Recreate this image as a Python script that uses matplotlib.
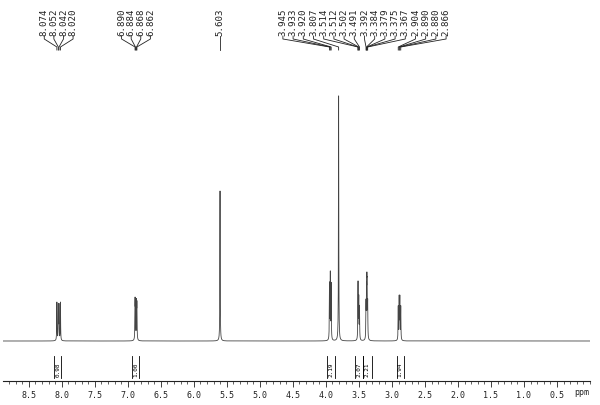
import numpy as np
import matplotlib
matplotlib.use("Agg")
import matplotlib.pyplot as plt
from matplotlib.ticker import MultipleLocator, FixedLocator

# ---- data ----
# peak-pick groups (ppm) and the height (px above baseline) of each multiplet
group_ppm = [
    [8.074, 8.052, 8.042, 8.020],
    [6.890, 6.884, 6.868, 6.862],
    [5.603],
    [3.945, 3.933, 3.920, 3.807, 3.514, 3.512, 3.502, 3.491,
     3.392, 3.384, 3.379, 3.375, 3.367, 2.904, 2.890, 2.880, 2.866],
]
multiplets = [
    [8.074, 8.052, 8.042, 8.020],
    [6.890, 6.884, 6.868, 6.862],
    [5.603],
    [3.945, 3.933, 3.920],
    [3.807],
    [3.514, 3.512, 3.502, 3.491],
    [3.392, 3.384, 3.379, 3.375, 3.367],
    [2.904, 2.890, 2.880, 2.866],
]
multiplet_rel = [
    [1.0, 0.9, 0.9, 1.0],
    [1.0, 0.95, 0.95, 0.9],
    [1.0],
    [0.85, 1.0, 0.85],
    [1.0],
    [0.8, 0.8, 1.0, 0.8],
    [0.8, 0.95, 1.0, 0.95, 0.8],
    [0.8, 1.0, 1.0, 0.8],
]
multiplet_height = [39, 44, 150, 70, 245, 60, 69, 46]

integral_ranges = [(8.115, 8.01), (6.935, 6.83), (3.985, 3.86),
                   (3.56, 3.445), (3.445, 3.30), (2.93, 2.82)]
integral_values = ["0.98", "1.00", "2.19", "2.07", "2.21", "1.94"]

tick_values = [8.5, 8.0, 7.5, 7.0, 6.5, 6.0, 5.5, 5.0, 4.5,
               4.0, 3.5, 3.0, 2.5, 2.0, 1.5, 1.0, 0.5]

# ---- figure ----
W, H = 600, 406
fig = plt.figure(figsize=(W / 100, H / 100), dpi=100)
ax = fig.add_axes([3 / W, 24 / H, 587 / W, 382 / H])
ax.set_xlim(8.89, 0.0)
ax.set_ylim(0, 382)
mono = "DejaVu Sans Mono"

baseline = 40
x = np.linspace(0.0, 8.89, 60000)
y = np.zeros_like(x)
hw = 0.0028
for pos, rel, hgt in zip(multiplets, multiplet_rel, multiplet_height):
    m = np.zeros_like(x)
    for p, r in zip(pos, rel):
        m += r * hw**2 / ((x - p) ** 2 + hw**2)
    y += m / m.max() * hgt
ax.plot(x, y + baseline, color="#444444", lw=0.6)

# peak-pick labels and connectors
ppm_per_px = 8.89 / 587
lab_bottom, bend1, bend2, end = 345, 342, 334, 331
for grp in group_ppm:
    n = len(grp)
    spacing = (9.6 if n < 10 else 10.2) * ppm_per_px
    center = float(np.mean(grp))
    for i, p in enumerate(grp):
        lx = center + ((n - 1) / 2 - i) * spacing
        ax.text(lx, lab_bottom + 1, f"{p:.3f}", rotation=90, ha="center",
                va="bottom", fontsize=6.6, family=mono, color="#222222")
        ax.plot([lx, lx, p, p], [lab_bottom, bend1, bend2, end],
                color="#222222", lw=0.6)

# integrals
for (a, b), v in zip(integral_ranges, integral_values):
    for xx in (a, b):
        ax.plot([xx, xx], [3, 25], color="black", lw=0.6)
    ax.text((a + b) / 2, 12, v, rotation=90, ha="center", va="center",
            fontsize=4.3, family=mono, color="black")

# axis styling
for s in ("top", "left", "right"):
    ax.spines[s].set_visible(False)
ax.spines["bottom"].set_linewidth(0.8)
ax.spines["bottom"].set_color("#222222")
ax.yaxis.set_visible(False)
ax.xaxis.set_major_locator(FixedLocator(tick_values))
ax.xaxis.set_major_formatter(matplotlib.ticker.FormatStrFormatter("%.1f"))
ax.xaxis.set_minor_locator(MultipleLocator(0.1))
ax.tick_params(axis="x", which="major", length=4, width=0.6, pad=2.5,
               labelsize=6, direction="out", colors="#222222")
ax.tick_params(axis="x", which="minor", length=2, width=0.5,
               direction="out", colors="#222222")
for t in ax.get_xticklabels():
    t.set_family(mono)
fig.text(582 / W, 1 - 393 / H, "ppm", ha="center", va="center",
         fontsize=6, family=mono, color="#222222")

fig.savefig("out.png", dpi=100)
